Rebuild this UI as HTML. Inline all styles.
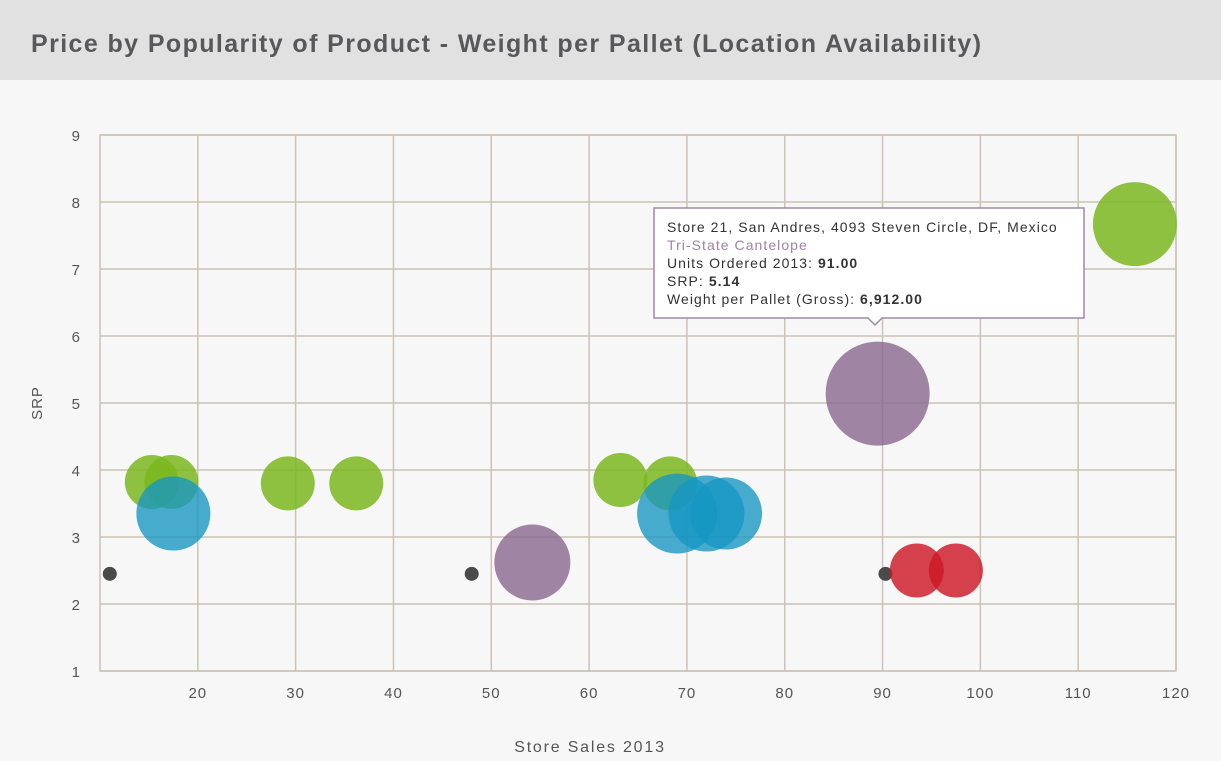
<!DOCTYPE html>
<html><head><meta charset="utf-8"><style>
body{margin:0;width:1221px;height:761px;background:#f7f7f7;font-family:"Liberation Sans",sans-serif;overflow:hidden}
#hdr{position:absolute;left:0;top:0;width:1221px;height:80px;background:#e1e1e2}
#hdr h1{margin:0;position:absolute;left:31px;top:30px;font-size:25px;letter-spacing:1.4px;font-weight:bold;color:#58585a;white-space:nowrap}
</style></head><body>
<div id="hdr"><h1>Price by Popularity of Product - Weight per Pallet (Location Availability)</h1></div>
<svg id="c" width="1221" height="761" style="position:absolute;left:0;top:0"></svg>
<script>
const xs=[15.3,17.3,17.5,29.2,36.2,11,48,54.2,63.2,68.3,69,72,74,89.5,90.3,93.5,97.5,115.8];
const ys=[3.82,3.82,3.35,3.8,3.8,2.45,2.45,2.62,3.85,3.8,3.35,3.35,3.35,5.14,2.45,2.5,2.5,7.67];
const sizes=[27,27,37,27,27,7,7,38,27,27,40,38,36,52,7,27,27,42];
const groups=["g","g","b","g","g","d","d","p","g","g","b","b","b","p","d","r","r","g"];
const xTicks=[20,30,40,50,60,70,80,90,100,110,120];
const yTicks=[1,2,3,4,5,6,7,8,9];
const L=100,R=1176,T=135,B=671;
const sx=v=>L+(v-10)/(120-10)*(R-L);
const sy=v=>B-(v-1)/(9-1)*(B-T);
const col={g:"rgba(122,183,30,0.85)",b:"rgba(22,150,195,0.78)",p:"rgba(135,100,140,0.78)",r:"rgba(204,25,38,0.82)",d:"#4a4a4a"};
const s=document.getElementById('c');const NS="http://www.w3.org/2000/svg";
function mk(t,a,p){const e=document.createElementNS(NS,t);for(const k in a)e.setAttribute(k,a[k]);(p||s).appendChild(e);return e;}
for(const v of xTicks){const l=mk('line',{x1:sx(v),x2:sx(v),y1:T,y2:B,stroke:"#cbc3b4","stroke-width":1.5});

const t=mk('text',{x:sx(v),y:B+27,"text-anchor":"middle","font-size":15,"letter-spacing":1,fill:"#555"});t.textContent=v;
}
for(const v of yTicks){const l=mk('line',{x1:L,x2:R,y1:sy(v),y2:sy(v),stroke:"#cbc3b4","stroke-width":1.5});

const t=mk('text',{x:80,y:sy(v)+6,"text-anchor":"end","font-size":15,fill:"#555"});t.textContent=v;
}
const bx=mk('rect',{x:L,y:T,width:R-L,height:B-T,fill:"none",stroke:"#cbc3b4","stroke-width":1.5});

for(let i=0;i<xs.length;i++){const c=mk('circle',{cx:sx(xs[i]),cy:sy(ys[i]),r:sizes[i],fill:col[groups[i]]});
}
const xt=mk('text',{x:590,y:752,"text-anchor":"middle","font-size":16,"letter-spacing":1.8,fill:"#555"});xt.textContent="Store Sales 2013";

const yt=mk('text',{x:42,y:403,"text-anchor":"middle","font-size":15,"letter-spacing":1,fill:"#555",transform:"rotate(-90 42 403)"});yt.textContent="SRP";

const g=mk('g',{});
mk('path',{d:"M654 208 H1084 V318 H882 L875 325 L868 318 H654 Z",fill:"#fff",stroke:"#a08aa6","stroke-width":1.5},g);
const lines=[["Store 21, San Andres, 4093 Steven Circle, DF, Mexico","",""],["Tri-State Cantelope","",""],["Units Ordered 2013: ","91.00"],["SRP: ","5.14"],["Weight per Pallet (Gross): ","6,912.00"]];
lines.forEach((ln,i)=>{const t=mk('text',{x:667,y:232+i*18,"font-size":14,"letter-spacing":1.05,fill:i==1?"#a083a8":"#333"},g);
t.textContent=ln[0];if(ln[1]){const b=mk('tspan',{"font-weight":"bold"},t);b.textContent=ln[1];}});
</script>
</body></html>
